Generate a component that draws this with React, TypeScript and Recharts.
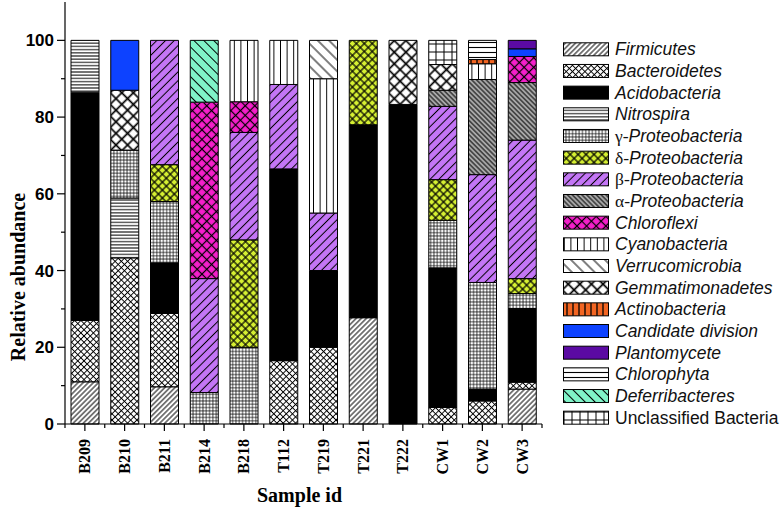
import { BarChart, Bar, XAxis, YAxis } from "recharts";

// sample ids along the x axis
const samples = ["B209", "B210", "B211", "B214", "B218", "T112", "T219", "T221", "T222", "CW1", "CW2", "CW3"];

// relative abundance (%) per sample
const firmicutes = [11, 0, 9.7, 0, 0, 0, 0, 27.7, 0, 0, 0, 9.1];
const bacteroidetes = [16, 43.3, 19.1, 0, 0, 16.5, 20, 0, 0, 4.3, 6, 1.8];
const acidobacteria = [59.5, 0, 13.2, 0, 0, 50, 20, 50.3, 83.3, 36.4, 3.1, 19.2];
const nitrospira = [13.5, 15.6, 0, 0, 0, 0, 0, 0, 0, 0, 0, 0];
const gammaProteo = [0, 12.5, 16, 8.2, 20, 0, 0, 0, 0, 12.4, 27.8, 3.9];
const deltaProteo = [0, 0, 9.6, 0, 28, 0, 0, 22, 0, 10.6, 0, 3.9];
const betaProteo = [0, 0, 32.4, 29.7, 28, 22, 15, 0, 0, 19.1, 28.1, 36.1];
const alphaProteo = [0, 0, 0, 0, 0, 0, 0, 0, 0, 4.2, 24.8, 15];
const chloroflexi = [0, 0, 0, 46, 8, 0, 0, 0, 0, 0, 0, 6.8];
const cyanobacteria = [0, 0, 0, 0, 16, 11.5, 35, 0, 0, 0, 4.1, 0];
const verrucomicrobia = [0, 0, 0, 0, 0, 0, 10, 0, 0, 0, 0, 0];
const gemmatimonadetes = [0, 15.6, 0, 0, 0, 0, 0, 0, 16.7, 6.7, 0, 0];
const actinobacteria = [0, 0, 0, 0, 0, 0, 0, 0, 0, 0, 1.1, 0];
const candidateDivision = [0, 13, 0, 0, 0, 0, 0, 0, 0, 0, 0, 2];
const plantomycete = [0, 0, 0, 0, 0, 0, 0, 0, 0, 0, 0, 2.2];
const chlorophyta = [0, 0, 0, 0, 0, 0, 0, 0, 0, 0, 5, 0];
const deferribacteres = [0, 0, 0, 16.1, 0, 0, 0, 0, 0, 0, 0, 0];
const unclassified = [0, 0, 0, 0, 0, 0, 0, 0, 0, 6.3, 0, 0];

const yTicks = [0, 10, 20, 30, 40, 50, 60, 70, 80, 90, 100];

// stack order bottom -> top, same as the legend
const taxa = [
  { key: "firm", name: "Firmicutes", values: firmicutes },
  { key: "bact", name: "Bacteroidetes", values: bacteroidetes },
  { key: "acido", name: "Acidobacteria", values: acidobacteria },
  { key: "nitro", name: "Nitrospira", values: nitrospira },
  { key: "gamma", name: "γ-Proteobacteria", values: gammaProteo },
  { key: "delta", name: "δ-Proteobacteria", values: deltaProteo },
  { key: "beta", name: "β-Proteobacteria", values: betaProteo },
  { key: "alpha", name: "α-Proteobacteria", values: alphaProteo },
  { key: "chloro", name: "Chloroflexi", values: chloroflexi },
  { key: "cyano", name: "Cyanobacteria", values: cyanobacteria },
  { key: "verru", name: "Verrucomicrobia", values: verrucomicrobia },
  { key: "gemm", name: "Gemmatimonadetes", values: gemmatimonadetes },
  { key: "actino", name: "Actinobacteria", values: actinobacteria },
  { key: "cand", name: "Candidate division", values: candidateDivision },
  { key: "planto", name: "Plantomycete", values: plantomycete },
  { key: "chlphy", name: "Chlorophyta", values: chlorophyta },
  { key: "defer", name: "Deferribacteres", values: deferribacteres },
  { key: "uncl", name: "Unclassified Bacteria", values: unclassified },
];

const data = samples.map((sample, i) => {
  const row: Record<string, string | number> = { sample };
  taxa.forEach((t) => {
    row[t.key] = t.values[i];
  });
  return row;
});

const W = 780;
const H = 510;
const margin = { top: 2, right: 238, left: 5, bottom: 0 };
const yAxisWidth = 60;
const step = (W - margin.left - margin.right - yAxisWidth) / samples.length;

const sans = '"Liberation Sans", Arial, sans-serif';
const serif = '"Liberation Serif", "Times New Roman", serif';

// hatch helpers
function lines(id: string, bg: string, s: number, angle: number, sw: number) {
  return (
    <pattern key={id} id={id} width={s} height={s} patternUnits="userSpaceOnUse" patternTransform={`rotate(${angle})`}>
      <rect width={s} height={s} fill={bg} />
      <line x1={s / 2} y1={-1} x2={s / 2} y2={s + 1} stroke="#000" strokeWidth={sw} />
    </pattern>
  );
}

function grid(id: string, bg: string, s: number, angle: number, sw: number) {
  return (
    <pattern key={id} id={id} width={s} height={s} patternUnits="userSpaceOnUse" patternTransform={`rotate(${angle})`}>
      <rect width={s} height={s} fill={bg} />
      <line x1={s / 2} y1={-1} x2={s / 2} y2={s + 1} stroke="#000" strokeWidth={sw} />
      <line x1={-1} y1={s / 2} x2={s + 1} y2={s / 2} stroke="#000" strokeWidth={sw} />
    </pattern>
  );
}

function solid(id: string, color: string) {
  return (
    <pattern key={id} id={id} width={4} height={4} patternUnits="userSpaceOnUse">
      <rect width={4} height={4} fill={color} />
    </pattern>
  );
}

const patterns = [
  lines("p-firm", "#fff", 3.6, 45, 1),
  grid("p-bact", "#fff", 4.4, 45, 0.95),
  solid("p-acido", "#000"),
  lines("p-nitro", "#fff", 3.2, 90, 1),
  grid("p-gamma", "#fff", 3.3, 0, 0.7),
  grid("p-delta", "#d6f032", 5.6, 45, 1.2),
  lines("p-beta", "#c476f6", 6.2, 45, 1),
  lines("p-alpha", "#a8a8a8", 3.4, -45, 1),
  grid("p-chloro", "#f51fcb", 6.8, 45, 1.2),
  lines("p-cyano", "#fff", 6.6, 0, 1),
  lines("p-verru", "#fff", 8, -45, 1),
  grid("p-gemm", "#fff", 8.2, 45, 1.7),
  lines("p-actino", "#f26522", 6, 0, 1.3),
  solid("p-cand", "#0d42ff"),
  solid("p-planto", "#5b0aa3"),
  lines("p-chlphy", "#fff", 5, 90, 1.1),
  lines("p-defer", "#80f3c8", 7, -45, 1),
  grid("p-uncl", "#fff", 8, 0, 1),
];

function YTick(props: any) {
  const { x, y, payload } = props;
  const major = payload.value % 20 === 0;
  return (
    <g>
      <line x1={x - (major ? 8 : 4)} y1={y} x2={x} y2={y} stroke="#000" strokeWidth={1.2} />
      {major && (
        <text x={x - 11} y={y + 6} textAnchor="end" fontFamily={sans} fontWeight="bold" fontSize={17} fill="#000">
          {payload.value}
        </text>
      )}
    </g>
  );
}

function XTick(props: any) {
  const { x, y, payload, index } = props;
  const px = x + 5.5;
  const py = y + 15;
  return (
    <g>
      <line x1={x} y1={y} x2={x} y2={y + 7} stroke="#000" strokeWidth={1.2} />
      <line x1={x - step / 2} y1={y} x2={x - step / 2} y2={y + 4} stroke="#000" strokeWidth={1.2} />
      {index === samples.length - 1 && (
        <line x1={x + step / 2} y1={y} x2={x + step / 2} y2={y + 4} stroke="#000" strokeWidth={1.2} />
      )}
      <text x={px} y={py} transform={`rotate(-90, ${px}, ${py})`} textAnchor="end" fontFamily={serif} fontWeight="bold" fontSize={16} fill="#000">
        {payload.value}
      </text>
    </g>
  );
}

function LegendLabel({ name, x, y }: { name: string; x: number; y: number }) {
  const greek = /^[αβγδ]-/.test(name);
  const italic = name !== "Unclassified Bacteria";
  return (
    <text x={x} y={y} fontFamily={sans} fontSize={17.5} fill="#111">
      {greek && (
        <tspan fontFamily={serif} fontStyle="normal">
          {name.slice(0, 2)}
        </tspan>
      )}
      <tspan fontStyle={italic ? "italic" : "normal"}>{greek ? name.slice(2) : name}</tspan>
    </text>
  );
}

export default function App() {
  const legendTop = 49.3;
  const rowGap = 21.67;
  return (
    <div style={{ position: "absolute", left: 0, top: 0, width: W, height: H, background: "#fff" }}>
      <BarChart width={W} height={H} data={data} margin={margin} barSize={28}>
        <XAxis
          dataKey="sample"
          interval={0}
          height={86}
          tickSize={0}
          tickMargin={0}
          tick={<XTick />}
          axisLine={{ stroke: "#000", strokeWidth: 1.2 }}
          label={{
            content: (p: any) => {
              const vb = p.viewBox;
              return (
                <text x={vb.x + vb.width / 2 - 4} y={vb.y + 78} textAnchor="middle" fontFamily={serif} fontWeight="bold" fontSize={20} fill="#000">
                  Sample id
                </text>
              );
            },
          }}
        />
        <YAxis
          width={yAxisWidth}
          domain={[0, 110]}
          ticks={yTicks}
          interval={0}
          tickSize={0}
          tickMargin={0}
          tick={<YTick />}
          axisLine={{ stroke: "#000", strokeWidth: 1.2 }}
          label={{
            content: () => (
              <text x={25} y={277} transform="rotate(-90, 25, 277)" textAnchor="middle" fontFamily={serif} fontWeight="bold" fontSize={20} fill="#000">
                Relative abundance
              </text>
            ),
          }}
        />
        {taxa.map((t) => (
          <Bar
            key={t.key}
            dataKey={t.key}
            name={t.name}
            stackId="a"
            fill={`url(#p-${t.key})`}
            stroke="#000"
            strokeWidth={1}
            isAnimationActive={false}
          />
        ))}
      </BarChart>
      <svg width={W} height={H} style={{ position: "absolute", left: 0, top: 0, pointerEvents: "none" }}>
        <defs>{patterns}</defs>
        {taxa.map((t, i) => {
          const cy = legendTop + i * rowGap;
          return (
            <g key={t.key}>
              <rect x={563.5} y={cy - 6.5} width={45} height={13} fill={`url(#p-${t.key})`} stroke="#000" strokeWidth={1} />
              <LegendLabel name={t.name} x={615} y={cy + 6} />
            </g>
          );
        })}
      </svg>
    </div>
  );
}
